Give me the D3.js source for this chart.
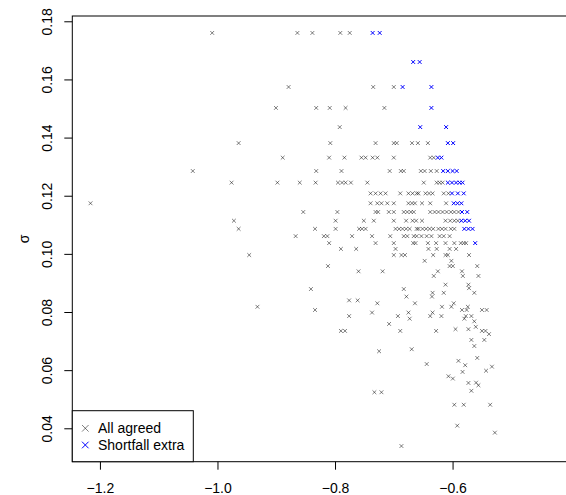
<!DOCTYPE html>
<html>
<head>
<meta charset="utf-8">
<script src="https://cdnjs.cloudflare.com/ajax/libs/d3/7.8.5/d3.min.js"></script>
<style>
  body { margin: 0; background: #fff; }
  text { font-family: "Liberation Sans", Arial, sans-serif; }
</style>
</head>
<body>
<div id="chart"></div>
<script>
// [mu, sigma] pairs, row by row (sigma falls on fixed levels up top)
var allAgreed = [
  [-1.009, 0.176], [-0.864, 0.176], [-0.8385, 0.176], [-0.791, 0.176], [-0.775, 0.176],
  [-0.879, 0.1574], [-0.735, 0.1574], [-0.700, 0.1574],
  [-0.9005, 0.1502], [-0.832, 0.1502], [-0.809, 0.1502], [-0.782, 0.1502], [-0.716, 0.1502],
  [-0.792, 0.1436],
  [-0.964, 0.1381], [-0.808, 0.1381], [-0.731, 0.1381], [-0.700, 0.1381], [-0.695, 0.1381],
  [-0.669, 0.1381], [-0.659, 0.1381], [-0.642, 0.1381],
  [-0.889, 0.1331], [-0.810, 0.1331], [-0.784, 0.1331], [-0.755, 0.1331], [-0.748, 0.1331],
  [-0.736, 0.1331], [-0.728, 0.1331], [-0.700, 0.1331], [-0.638, 0.1331], [-0.632, 0.1331],
  [-1.042, 0.1285], [-0.832, 0.1285], [-0.789, 0.1285], [-0.707, 0.1285], [-0.688, 0.1285],
  [-0.683, 0.1285], [-0.654, 0.1285], [-0.6475, 0.1285], [-0.637, 0.1285], [-0.627, 0.1285],
  [-0.976, 0.1245], [-0.898, 0.1245], [-0.860, 0.1245], [-0.833, 0.1245], [-0.795, 0.1245],
  [-0.788, 0.1245], [-0.782, 0.1245], [-0.773, 0.1245], [-0.745, 0.1245], [-0.649, 0.1245],
  [-0.627, 0.1245], [-0.622, 0.1245], [-0.617, 0.1245],
  [-0.7395, 0.1208], [-0.731, 0.1208], [-0.7225, 0.1208], [-0.714, 0.1208], [-0.689, 0.1208],
  [-0.675, 0.1208], [-0.668, 0.1208], [-0.661, 0.1208], [-0.658, 0.1208], [-0.646, 0.1208],
  [-0.640, 0.1208], [-0.634, 0.1208], [-0.615, 0.1208], [-0.607, 0.1208],
  [-1.216, 0.1174], [-0.7395, 0.1174], [-0.728, 0.1174], [-0.721, 0.1174], [-0.711, 0.1174],
  [-0.700, 0.1174], [-0.675, 0.1174], [-0.669, 0.1174], [-0.664, 0.1174], [-0.652, 0.1174],
  [-0.638, 0.1174], [-0.611, 0.1174],
  [-0.854, 0.1144], [-0.796, 0.1144], [-0.731, 0.1144], [-0.7266, 0.1144], [-0.7085, 0.1144],
  [-0.700, 0.1144], [-0.683, 0.1144], [-0.677, 0.1144], [-0.671, 0.1144], [-0.666, 0.1144],
  [-0.638, 0.1144], [-0.6305, 0.1144], [-0.624, 0.1144], [-0.617, 0.1144], [-0.610, 0.1144],
  [-0.603, 0.1144], [-0.597, 0.1144], [-0.590, 0.1144],
  [-0.972, 0.1114], [-0.799, 0.1114], [-0.751, 0.1114], [-0.734, 0.1114], [-0.700, 0.1114],
  [-0.679, 0.1114], [-0.668, 0.1114], [-0.662, 0.1114], [-0.652, 0.1114], [-0.612, 0.1114],
  [-0.604, 0.1114], [-0.597, 0.1114], [-0.591, 0.1114],
  [-0.964, 0.1086], [-0.834, 0.1086], [-0.799, 0.1086], [-0.759, 0.1086], [-0.754, 0.1086],
  [-0.748, 0.1086], [-0.697, 0.1086], [-0.691, 0.1086], [-0.685, 0.1086], [-0.679, 0.1086],
  [-0.673, 0.1086], [-0.661, 0.1086], [-0.658, 0.1086], [-0.651, 0.1086], [-0.645, 0.1086],
  [-0.639, 0.1086], [-0.633, 0.1086], [-0.624, 0.1086], [-0.618, 0.1086], [-0.612, 0.1086],
  [-0.603, 0.1086], [-0.597, 0.1086],
  [-0.867, 0.1061], [-0.819, 0.1061], [-0.813, 0.1061], [-0.771, 0.1061], [-0.737, 0.1061],
  [-0.706, 0.1061], [-0.683, 0.1061], [-0.677, 0.1061], [-0.666, 0.1061], [-0.661, 0.1061],
  [-0.653, 0.1061], [-0.644, 0.1061], [-0.636, 0.1061], [-0.622, 0.1061], [-0.615, 0.1061],
  [-0.605, 0.1061],
  [-0.810, 0.1037], [-0.731, 0.1037], [-0.700, 0.1037], [-0.667, 0.1037], [-0.663, 0.1037],
  [-0.642, 0.1037], [-0.628, 0.1037], [-0.612, 0.1037], [-0.597, 0.1037], [-0.586, 0.1037],
  [-0.581, 0.1037], [-0.577, 0.1037],
  [-0.790, 0.1017], [-0.764, 0.1017], [-0.697, 0.1017], [-0.641, 0.1017], [-0.627, 0.1017],
  [-0.605, 0.1017], [-0.594, 0.1017],
  [-0.946, 0.0996], [-0.700, 0.0996], [-0.687, 0.0996], [-0.681, 0.0996], [-0.633, 0.0996],
  [-0.612, 0.0996], [-0.608, 0.0996], [-0.572, 0.0996],
  [-0.6475, 0.0976], [-0.602, 0.0976],
  [-0.812, 0.0958], [-0.605, 0.0958], [-0.5995, 0.0958], [-0.558, 0.0958],
  [-0.760, 0.0940], [-0.719, 0.0940], [-0.625, 0.0940], [-0.584, 0.0940],
  [-0.632, 0.0924], [-0.5825, 0.0924], [-0.556, 0.0924],
  [-0.612, 0.0894], [-0.573, 0.0894], [-0.572, 0.0882],
  [-0.841, 0.0879], [-0.683, 0.0879],
  [-0.563, 0.0866], [-0.634, 0.0866], [-0.615, 0.0866],
  [-0.635, 0.0853], [-0.6785, 0.0853],
  [-0.776, 0.0840], [-0.7615, 0.0840],
  [-0.728, 0.0830], [-0.664, 0.0830], [-0.598, 0.0830],
  [-0.932, 0.0818], [-0.602, 0.0818], [-0.618, 0.0818], [-0.574, 0.0818],
  [-0.834, 0.0807], [-0.584, 0.0807], [-0.576, 0.0807], [-0.550, 0.0807], [-0.542, 0.0807],
  [-0.737, 0.0798], [-0.675, 0.0798], [-0.634, 0.0798],
  [-0.776, 0.0786], [-0.693, 0.0786], [-0.638, 0.0786], [-0.619, 0.0786], [-0.5775, 0.0786],
  [-0.568, 0.0786],
  [-0.673, 0.0777], [-0.580, 0.0777], [-0.563, 0.0768], [-0.708, 0.0759],
  [-0.5605, 0.0749], [-0.595, 0.0741], [-0.573, 0.0741],
  [-0.790, 0.0735], [-0.783, 0.0735], [-0.689, 0.0735], [-0.628, 0.0735], [-0.550, 0.0735],
  [-0.544, 0.0735], [-0.538, 0.0724],
  [-0.568, 0.0704], [-0.546, 0.0704], [-0.563, 0.0683],
  [-0.6695, 0.0672], [-0.725, 0.0665],
  [-0.558, 0.0642], [-0.590, 0.0632], [-0.644, 0.0621], [-0.5785, 0.0617], [-0.533, 0.0612],
  [-0.543, 0.0598], [-0.583, 0.0594], [-0.607, 0.0579], [-0.5995, 0.0571],
  [-0.573, 0.0556], [-0.560, 0.0557], [-0.556, 0.0548], [-0.568, 0.0529],
  [-0.733, 0.0524], [-0.721, 0.0524],
  [-0.597, 0.0481], [-0.581, 0.0481], [-0.536, 0.0481],
  [-0.592, 0.0409], [-0.528, 0.0385], [-0.687, 0.0339]
];

var shortfallExtra = [
  [-0.736, 0.176], [-0.724, 0.176],
  [-0.667, 0.166], [-0.656, 0.166],
  [-0.685, 0.1574], [-0.636, 0.1574],
  [-0.636, 0.1502],
  [-0.655, 0.1436], [-0.611, 0.1436],
  [-0.608, 0.1381], [-0.599, 0.1381],
  [-0.625, 0.1331], [-0.619, 0.1331],
  [-0.616, 0.1285], [-0.608, 0.1285], [-0.600, 0.1285], [-0.593, 0.1285],
  [-0.608, 0.1245], [-0.601, 0.1245], [-0.594, 0.1245], [-0.588, 0.1245], [-0.583, 0.1245],
  [-0.601, 0.1208], [-0.591, 0.1208], [-0.581, 0.1208],
  [-0.598, 0.1174], [-0.5915, 0.1174], [-0.585, 0.1174],
  [-0.584, 0.1144], [-0.575, 0.1144],
  [-0.585, 0.1114], [-0.5785, 0.1114], [-0.572, 0.1114],
  [-0.580, 0.1086], [-0.573, 0.1086], [-0.566, 0.1086],
  [-0.5615, 0.1037]
];

var xTicks = [-1.2, -1.0, -0.8, -0.6];
var yTicks = [0.04, 0.06, 0.08, 0.10, 0.12, 0.14, 0.16, 0.18];
var legendLabels = ["All agreed", "Shortfall extra"];
var seriesColors = ["rgba(0,0,0,0.5)", "blue"];

var W = 566, H = 495;
var plotLeft = 72.3, plotTop = 16, plotBottom = 461.7, plotRight = 571;
var fontSize = 14;

var svg = d3.select("#chart").append("svg")
  .attr("width", W).attr("height", H);

var x = d3.scaleLinear().domain([-1.247, -0.3985]).range([plotLeft, plotRight]);
var y = d3.scaleLinear().domain([0.02851, 0.18182]).range([plotBottom, plotTop]);

// plot frame
svg.append("rect")
  .attr("x", plotLeft).attr("y", plotTop)
  .attr("width", plotRight - plotLeft).attr("height", plotBottom - plotTop)
  .attr("fill", "none").attr("stroke", "#000").attr("stroke-width", 1);

var fmtX = function (d) { return d3.format(".1f")(d).replace("-", "\u2212"); };

svg.append("g")
  .attr("transform", "translate(0," + plotBottom + ")")
  .call(d3.axisBottom(x).tickValues(xTicks).tickFormat(fmtX).tickSize(8).tickPadding(13))
  .call(function (g) {
    g.select(".domain").remove();
    g.selectAll("text").attr("font-size", fontSize).attr("fill", "#000")
      .attr("font-family", "Liberation Sans, Arial, sans-serif");
  });

var yAxis = svg.append("g")
  .attr("transform", "translate(" + plotLeft + ",0)")
  .call(d3.axisLeft(y).tickValues(yTicks).tickFormat(d3.format(".2f")).tickSize(8))
  .call(function (g) { g.select(".domain").remove(); });

yAxis.selectAll(".tick text")
  .attr("x", null).attr("dy", null)
  .attr("transform", "translate(-25,0) rotate(-90)")
  .attr("text-anchor", "middle")
  .attr("dominant-baseline", "central")
  .attr("font-size", fontSize).attr("fill", "#000")
  .attr("font-family", "Liberation Sans, Arial, sans-serif");

svg.append("text")
  .attr("transform", "translate(24," + ((plotTop + plotBottom) / 2) + ") rotate(-90)")
  .attr("text-anchor", "middle")
  .attr("dominant-baseline", "central")
  .attr("font-size", fontSize)
  .text("\u03c3");

var cross = function (s) {
  return "M" + (-s) + "," + (-s) + "L" + s + "," + s + "M" + (-s) + "," + s + "L" + s + "," + (-s);
};

var plotArea = svg.append("g");
[allAgreed, shortfallExtra].forEach(function (series, i) {
  plotArea.selectAll(null)
    .data(series)
    .enter().append("path")
    .attr("d", cross(1.9))
    .attr("transform", function (d) { return "translate(" + x(d[0]) + "," + y(d[1]) + ")"; })
    .attr("fill", "none")
    .attr("stroke", seriesColors[i])
    .attr("stroke-width", 1);
});

// legend, bottom left
var legend = svg.append("g");
legend.append("rect")
  .attr("x", plotLeft).attr("y", 410.7)
  .attr("width", 121).attr("height", plotBottom - 410.7)
  .attr("fill", "#fff").attr("stroke", "#000").attr("stroke-width", 1);

legendLabels.forEach(function (lab, i) {
  var cy = 428.3 + i * 16.7;
  legend.append("path")
    .attr("d", cross(3.3))
    .attr("transform", "translate(85.3," + cy + ")")
    .attr("fill", "none")
    .attr("stroke", seriesColors[i])
    .attr("stroke-width", 1);
  legend.append("text")
    .attr("x", 98)
    .attr("y", cy)
    .attr("dominant-baseline", "central")
    .attr("font-size", fontSize)
    .text(lab);
});
</script>
</body>
</html>
